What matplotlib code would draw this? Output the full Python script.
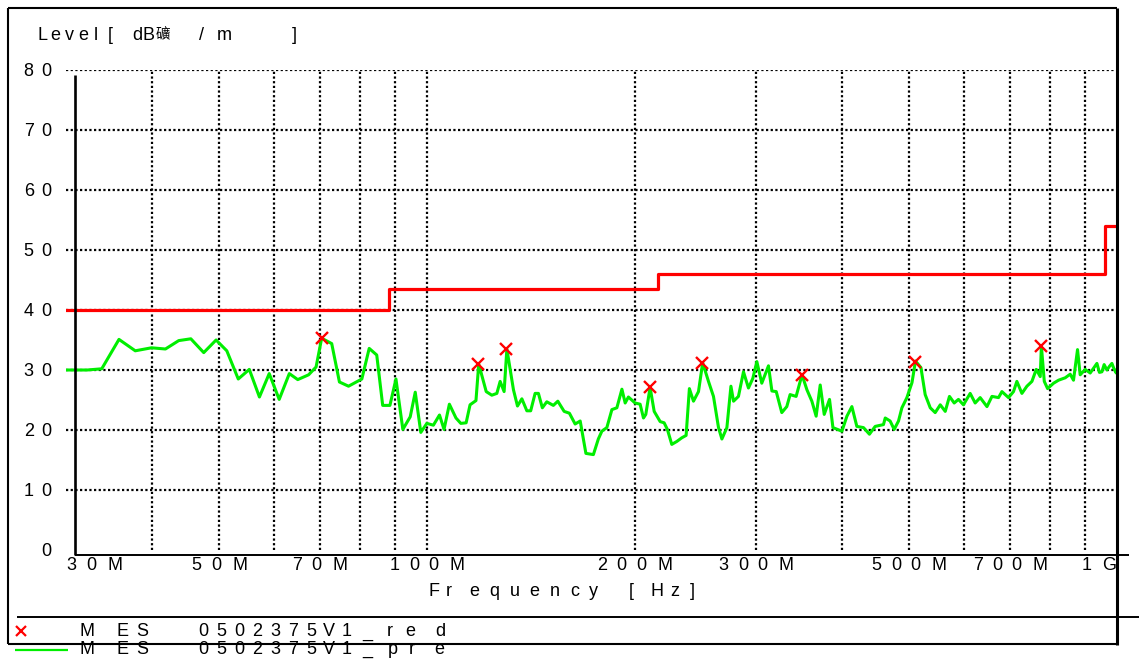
import matplotlib
matplotlib.use('Agg')
import matplotlib.pyplot as plt
from matplotlib.lines import Line2D

# ---------------- data ----------------
pre_freq = [30.0, 32.2, 33.8, 35.8, 37.8, 39.9, 41.8, 43.7, 45.5, 47.5, 49.5, 51.3, 53.3, 55.3,
            57.2, 59.1, 61.1, 63.2, 65.0, 67.4, 69.1, 70.4, 72.8, 74.7, 77.0, 80.5, 82.5, 84.6,
            86.3, 88.4, 90.2, 92.3, 94.6, 96.2, 98.0, 100.0, 102.2, 104.3, 105.9, 107.8, 110.2,
            112.0, 114.0, 115.5, 117.8, 118.9, 121.9, 124.2, 126.3, 127.7, 129.4, 130.6, 133.5,
            135.3, 137.3, 139.6, 141.4, 143.5, 145.1, 147.0, 149.2, 152.5, 154.8, 158.1, 160.9,
            164.0, 166.8, 170.0, 174.3, 177.2, 179.3, 182.3, 185.4, 188.5, 191.7, 193.8, 195.9,
            200.3, 203.7, 206.0, 207.6, 210.6, 213.5, 217.8, 220.7, 223.1, 226.4, 230.3, 234.1,
            237.5, 240.1, 243.4, 247.5, 251.0, 255.9, 260.2, 264.6, 267.6, 272.1, 275.8, 278.2,
            282.8, 287.6, 292.4, 296.7, 300.7, 305.7, 312.6, 316.2, 320.8, 326.8, 332.3, 336.0,
            342.8, 349.6, 355.4, 361.3, 366.5, 371.5, 376.5, 383.2, 387.6, 399.4, 406.1, 412.9,
            419.8, 429.2, 437.8, 446.3, 458.8, 461.5, 469.1, 475.5, 482.4, 487.9, 496.1, 504.6,
            510.5, 519.9, 527.3, 536.3, 545.2, 554.5, 563.8, 571.8, 580.9, 589.2, 599.1, 612.7,
            623.0, 633.5, 648.0, 658.9, 673.5, 681.2, 696.3, 708.0, 716.0, 728.1, 740.4, 752.9,
            763.8, 774.1, 777.0, 784.6, 793.3, 809.3, 822.8, 841.3, 855.4, 864.9, 876.6, 884.4,
            899.4, 914.5, 935.2, 943.0, 950.9, 958.0, 966.9, 975.0, 983.1, 990.0, 997.3, 1000.0]
pre_level = [30.0, 30.0, 30.2, 35.1, 33.2, 33.7, 33.5, 34.9, 35.2, 32.9, 35.0, 33.2, 28.5, 30.1,
             25.5, 29.4, 25.1, 29.4, 28.4, 29.2, 30.5, 35.3, 34.4, 28.0, 27.3, 28.5, 33.6, 32.5,
             24.1, 24.1, 28.5, 20.1, 22.2, 26.3, 19.6, 21.1, 20.8, 22.5, 20.1, 24.3, 22.0,
             21.1, 21.2, 24.2, 24.9, 31.0, 26.4, 25.8, 26.1, 28.1, 26.4, 33.5, 26.7,
             24.0, 25.2, 23.2, 23.2, 26.1, 26.1, 23.7, 24.7, 24.1, 24.8, 23.1, 22.8,
             21.0, 21.5, 16.1, 15.9, 18.5, 19.8, 20.4, 23.4, 23.7, 26.8, 24.5, 25.5,
             24.5, 24.3, 22.0, 22.6, 27.1, 23.1, 21.4, 21.2, 20.1, 17.6, 18.1, 18.7,
             19.1, 26.9, 24.8, 26.4, 31.2, 28.1, 25.6, 20.4, 18.5, 20.4, 27.3, 24.8,
             25.6, 29.7, 27.0, 28.6, 31.4, 27.8, 30.7, 26.5, 26.4, 22.9, 23.9, 25.9,
             25.6, 29.2, 26.7, 24.8, 22.3, 27.5, 22.6, 25.1, 20.4, 19.8, 22.3, 23.9,
             20.6, 20.4, 19.3, 20.6, 20.9, 22.0, 21.5, 20.1, 21.5, 23.7, 25.4, 27.9,
             31.5, 30.4, 25.9, 23.7, 22.9, 24.2, 23.1, 25.6, 24.5, 25.1, 24.2, 26.1,
             24.5, 25.4, 23.9, 25.6, 25.4, 26.4, 25.4, 26.4, 28.1, 26.1, 27.3, 28.1,
             30.1, 28.9, 34.0, 28.1, 26.9, 27.8, 28.3, 28.7, 29.3, 28.3, 33.4, 29.2,
             30.1, 29.5, 31.1, 29.6, 29.7, 30.9, 30.0, 30.6, 31.1, 30.2, 29.5, 30.0]

red_freq = [70.4, 118.7, 130.3, 210.6, 250.6, 349.8, 510.0, 776.0]
red_level = [35.3, 31.0, 33.5, 27.1, 31.2, 29.2, 31.4, 34.0]

limit_freq = [30, 88, 216, 960, 1000]
limit_level = [40, 43.5, 46, 54, 54]

y_ticks = [0, 10, 20, 30, 40, 50, 60, 70, 80]
x_tick_freqs = [30, 50, 70, 100, 200, 300, 500, 700, 1000]
x_tick_labels = ['30M', '50M', '70M', '100M', '200M', '300M', '500M', '700M', '1G']
grid_freqs = [40, 50, 60, 70, 80, 90, 100, 200, 300, 400, 500, 600, 700, 800, 900]

title_text = 'Level[dB礦/m]'
xlabel_text = 'Frequency[Hz]'
legend_red = 'MES0502375V1_red'
legend_pre = 'MES0502375V1_pre'

# ---------------- layout ----------------
W, H = 1139, 659
fig = plt.figure(figsize=(W / 100, H / 100), dpi=100)
FONT = ['Liberation Sans', 'Noto Sans CJK SC', 'DejaVu Sans']
FS = 13


def fx(px):
    return px / W


def fy(py):
    return 1 - py / H


ax = fig.add_axes([fx(66), fy(555), (1117 - 66) / W, (555 - 70) / H])
ax.set_xscale('log')
ax.set_xlim(30, 1000)
ax.set_ylim(80 - 485 / 6.0, 80)
ax.set_axis_off()

dot = (0, (1.0, 1.1))
ax.hlines(y_ticks[1:], 30, 1000, colors='k', linestyles=[dot], linewidths=1.6, zorder=1)
ax.vlines(grid_freqs, 0, 80, colors='k', linestyles=[dot], linewidths=1.6, zorder=1)

ax.plot(limit_freq, limit_level, drawstyle='steps-post', color='#ff0000', lw=2.3, zorder=3)
ax.plot(pre_freq, pre_level, color='#00ee00', lw=2.2, zorder=4)
ax.plot(red_freq, red_level, ls='none', marker='x', color='#ff0000', ms=8, mew=1.7, zorder=5)


def fline(x0, y0, x1, y1, lw=1.4, color='k', **kw):
    fig.add_artist(Line2D([fx(x0), fx(x1)], [fy(y0), fy(y1)], color=color, lw=lw,
                          solid_capstyle='butt', **kw))


# frame and axis lines
fline(8, 8, 1117, 8, lw=1.5)
fline(8, 8, 8, 644, lw=1.5)
fline(8, 644, 1117, 644, lw=1.5)
fline(1117, 8, 1117, 645, lw=2.2)
fline(17, 617, 1139, 617, lw=1.4)
fline(75, 75, 75, 555, lw=1.9)
fline(75, 555, 1129, 555, lw=1.4)


def chars(centers, base_y, text, color='k', sizes=None):
    for k, (c, ch) in enumerate(zip(centers, text)):
        if ch.strip():
            size = sizes[k] if sizes else FS
            fig.text(fx(c), fy(base_y), ch, ha='center', va='baseline',
                     family=FONT, size=size, color=color)


# title (the CJK glyph is drawn a little smaller so it does not collide with "B")
title_sizes = [FS] * len(title_text)
title_sizes[title_text.index('礦')] = 10.5
chars([42.5, 55, 69, 83.5, 95.5, 110, 137.5, 148, 162.5, 201.5, 224, 294], 39.5, title_text,
      sizes=title_sizes)

# y tick labels
for v in y_ticks:
    disp_y = ax.transData.transform((30, v))[1]
    py = H - disp_y
    lab = str(v)
    cs = [28.7, 46.5] if len(lab) == 2 else [46.5]
    chars(cs, py + 6.5, lab)

# x tick labels
cell = {'M': 28.0, 'G': 24.0}
for i, (f, lab) in enumerate(zip(x_tick_freqs, x_tick_labels)):
    tx = ax.transData.transform((f, 0))[0]
    widths = [cell.get(ch, 19.5) for ch in lab]
    total = sum(widths)
    if i == 0:
        left = tx - 4.25
    elif i == len(x_tick_freqs) - 1:
        left = tx + 3.7 - total
    else:
        left = tx - total / 2 + 1
    cs = []
    acc = left
    for w_ in widths:
        cs.append(acc + w_ / 2)
        acc += w_
    chars(cs, 570.5, lab)

# x axis label
chars([434.5, 449, 474.5, 494.5, 515, 534.5, 555, 574.5, 593.5, 631.5, 657.5, 675, 692.5],
      595.5, xlabel_text)

# legend
leg_cs = [87, 123, 142, 203, 221, 239, 257, 275, 293, 311, 329, 347, 367.5]
fig.add_artist(Line2D([fx(21)], [fy(631)], ls='none', marker='x', color='#ff0000',
                      ms=7, mew=1.6))
chars(leg_cs + [390, 410.5, 440], 636.5, legend_red)
fline(15, 650, 68, 650, lw=1.6, color='#00ee00')
chars(leg_cs + [393, 411.5, 439], 654.0, legend_pre)

fig.savefig('out.png', dpi=100)
